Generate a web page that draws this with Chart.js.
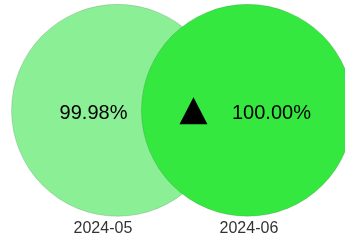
<!DOCTYPE html>
<html>
<head>
<meta charset="utf-8">
<script src="https://cdn.jsdelivr.net/npm/chart.js@4"></script>
<style>
  html, body { margin: 0; padding: 0; background: #fff; }
  #wrap { width: 345px; height: 246px; }
</style>
</head>
<body>
<div id="wrap"><canvas id="chart"></canvas></div>
<script>
// data
const months = ["2024-05", "2024-06"];
const values = [99.98, 100.00];
const trend = [null, "up"];
const bubbleX = [0.1, 0.99];
const bubbleY = [0.5, 0.5];

const RADIUS = 106;
const colors = ["rgb(138,239,149)", "rgb(53,232,64)"];

// text + triangle inside the bubbles
const labelPlugin = {
  id: "valueLabels",
  afterDatasetsDraw(chart) {
    const ctx = chart.ctx;
    const meta = chart.getDatasetMeta(0);
    ctx.save();
    ctx.fillStyle = "#000";
    ctx.font = "20px 'Liberation Sans', Arial, sans-serif";
    ctx.textAlign = "center";
    ctx.textBaseline = "alphabetic";
    meta.data.forEach((pt, i) => {
      const txt = values[i].toFixed(2) + "%";
      if (trend[i] === "up") {
        ctx.fillText(txt, pt.x + 24, pt.y + 9);
        // triangle
        const tx = pt.x - 54, ty = pt.y + 1;
        ctx.beginPath();
        ctx.moveTo(tx, ty - 14);
        ctx.lineTo(tx + 14, ty + 13);
        ctx.lineTo(tx - 14, ty + 13);
        ctx.closePath();
        ctx.fill();
      } else {
        ctx.fillText(txt, pt.x - 24, pt.y + 9);
      }
    });
    ctx.restore();
  }
};

new Chart(document.getElementById("chart"), {
  type: "bubble",
  data: {
    datasets: [{
      data: months.map((m, i) => ({ x: bubbleX[i], y: bubbleY[i], r: RADIUS })),
      backgroundColor: colors,
      borderColor: "rgba(0,0,0,0.25)",
      borderWidth: 0.5,
      hoverRadius: 0,
      clip: false
    }]
  },
  options: {
    responsive: true,
    maintainAspectRatio: false,
    animation: false,
    layout: { autoPadding: false, padding: { bottom: 6 } },
    plugins: { legend: { display: false }, tooltip: { enabled: false } },
    scales: {
      x: {
        type: "linear",
        min: -0.705,
        max: 1.658,
        afterBuildTicks: (scale) => { scale.ticks = months.map((m, i) => ({ value: i })); },
        ticks: {
          callback: (v) => months[v] ?? "",
          color: "#333",
          font: { size: 16, family: "'Liberation Sans', Arial, sans-serif" },
          padding: 2,
          maxRotation: 0,
          autoSkip: false
        },
        grid: { display: false },
        border: { display: false }
      },
      y: { display: false, min: 0, max: 1.06 }
    }
  },
  plugins: [labelPlugin]
});
</script>
</body>
</html>
